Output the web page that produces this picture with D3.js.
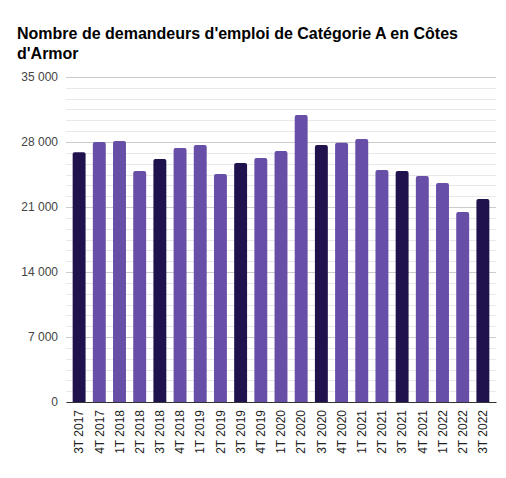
<!DOCTYPE html>
<html>
<head>
<meta charset="utf-8">
<script src="https://cdn.jsdelivr.net/npm/d3@7"></script>
<style>
  body { margin: 0; background: #fff; }
</style>
</head>
<body>
<div id="chart"></div>
<script>
const width = 506;
const height = 478;
const margin = {top: 77, right: 10, bottom: 76, left: 66};

// data
const quarters = ["3T 2017", "4T 2017", "1T 2018", "2T 2018", "3T 2018", "4T 2018", "1T 2019",
  "2T 2019", "3T 2019", "4T 2019", "1T 2020", "2T 2020", "3T 2020", "4T 2020", "1T 2021",
  "2T 2021", "3T 2021", "4T 2021", "1T 2022", "2T 2022", "3T 2022"];
const jobseekers = [26900, 28000, 28100, 24880, 26170, 27350, 27680,
  24560, 25740, 26270, 27030, 30910, 27680, 27930, 28330,
  24990, 24880, 24340, 23590, 20460, 21860];
const yTicks = [0, 7000, 14000, 21000, 28000, 35000];

const darkCol = "#20124d";
const lightCol = "#674ea7";

const svg = d3.select("#chart").append("svg")
  .attr("width", width)
  .attr("height", height)
  .style("font-family", "Arial, 'Liberation Sans', sans-serif");

const x = d3.scaleBand()
  .domain(quarters)
  .range([margin.left, width - margin.right])
  .paddingInner(0.36)
  .paddingOuter(0.33);

const y = d3.scaleLinear()
  .domain([0, 35000])
  .range([height - margin.bottom, margin.top]);

// title
svg.append("text")
  .attr("x", 17).attr("y", 39)
  .style("font-size", "16px").style("font-weight", "bold").style("fill", "#000")
  .text("Nombre de demandeurs d'emploi de Catégorie A en Côtes");
svg.append("text")
  .attr("x", 17).attr("y", 59)
  .style("font-size", "16px").style("font-weight", "bold").style("fill", "#000")
  .text("d'Armor");

// minor grid
const minorTicks = d3.range(0, 35000, 7000 / 6).filter(v => v % 7000 > 1);
svg.append("g")
  .selectAll("line")
  .data(minorTicks)
  .join("line")
  .attr("x1", margin.left).attr("x2", width - margin.right)
  .attr("y1", d => Math.round(y(d)) + 0.5).attr("y2", d => Math.round(y(d)) + 0.5)
  .attr("stroke", "#e8e8e8");

// y axis with major grid
svg.append("g")
  .attr("transform", `translate(${margin.left},0)`)
  .call(d3.axisLeft(y).tickValues(yTicks)
    .tickSize(-(width - margin.left - margin.right))
    .tickPadding(8)
    .tickFormat(d => d3.format(",")(d).replace(",", " ")))
  .call(g => g.select(".domain").remove())
  .call(g => g.selectAll(".tick line").attr("stroke", "#cccccc"))
  .call(g => g.selectAll(".tick text").style("font-size", "12px").style("fill", "#444"));

// bars with rounded top
const r = 2;
function barPath(d, i) {
  const x0 = x(quarters[i]);
  const w = x.bandwidth();
  const y0 = y(0);
  const y1 = y(d);
  return `M${x0},${y0}V${y1 + r}Q${x0},${y1} ${x0 + r},${y1}H${x0 + w - r}Q${x0 + w},${y1} ${x0 + w},${y1 + r}V${y0}Z`;
}
svg.append("g")
  .selectAll("path")
  .data(jobseekers)
  .join("path")
  .attr("d", barPath)
  .attr("fill", (d, i) => quarters[i].startsWith("3T") ? darkCol : lightCol);

// x axis
svg.append("g")
  .attr("transform", `translate(0,${y(0)})`)
  .call(d3.axisBottom(x).tickSize(0).tickPadding(8))
  .call(g => g.select(".domain").attr("stroke", "#333"))
  .call(g => g.selectAll(".tick text")
    .style("font-size", "12px").style("fill", "#222")
    .attr("transform", "rotate(-90)")
    .attr("text-anchor", "end")
    .attr("x", -8).attr("y", 0).attr("dy", "0.35em"));
</script>
</body>
</html>
